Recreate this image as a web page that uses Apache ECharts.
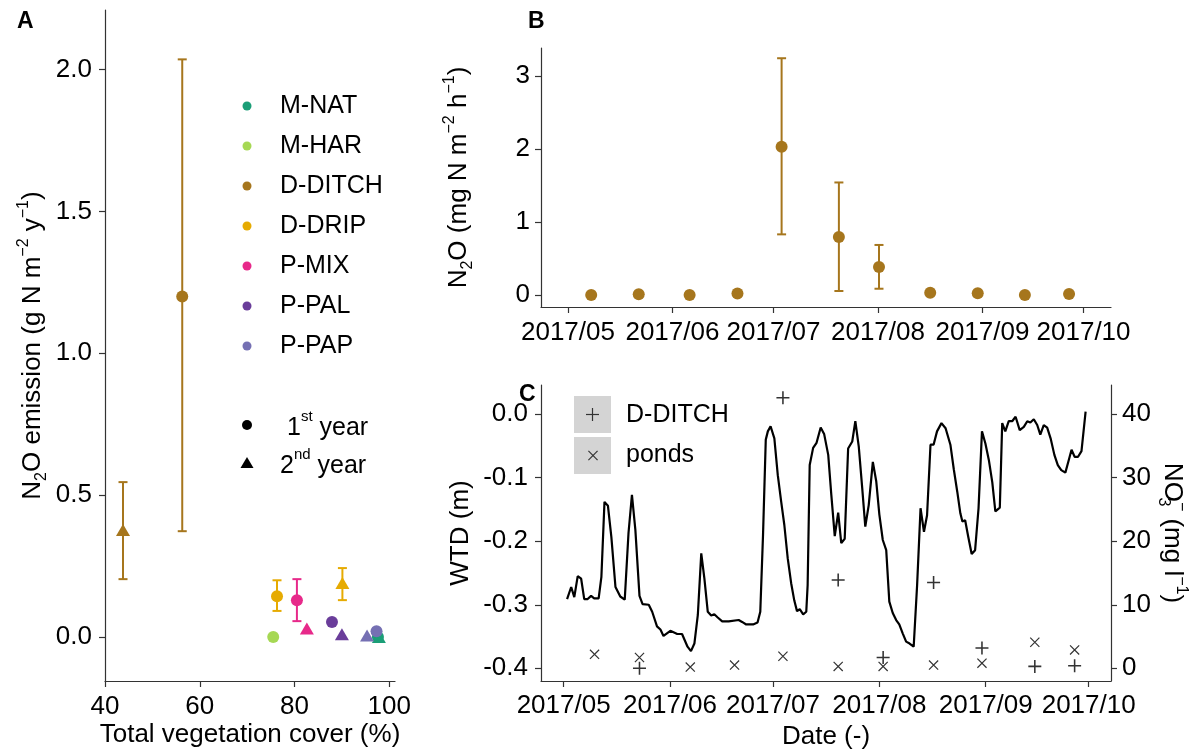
<!DOCTYPE html>
<html>
<head>
<meta charset="utf-8">
<title>N2O emission</title>
<script src="https://cdn.jsdelivr.net/npm/echarts@6.0.0/dist/echarts.min.js"></script>
<style>
html,body{margin:0;padding:0;background:#fff;}
#main{width:1196px;height:751px;}
</style>
</head>
<body>
<div id="main"></div>
<script>
var FONT = '"Liberation Sans", Arial, sans-serif';
var DAY = 86400000;
var T0 = Date.UTC(2017, 4, 1); // day 0 = 2017/05/01

// panel A: annual emission vs vegetation cover
var groups = ['M-NAT', 'M-HAR', 'D-DITCH', 'D-DRIP', 'P-MIX', 'P-PAL', 'P-PAP'];
var cover1 = [97.6, 75.5, 56.3, 76.3, 80.5, 87.9, 97.3];
var emis1 = [0.00, 0.00, 1.20, 0.144, 0.13, 0.053, 0.02];
var emis1Lo = [null, null, 0.373, 0.092, 0.056, null, null];
var emis1Hi = [null, null, 2.036, 0.200, 0.204, null, null];
var cover2 = [97.8, null, 43.8, 90.1, 82.6, 90.0, 95.3];
var emis2 = [0.00, null, 0.377, 0.19, 0.03, 0.01, 0.005];
var emis2Lo = [null, null, 0.204, 0.13, null, null, null];
var emis2Hi = [null, null, 0.546, 0.243, null, null, null];
var coverTicks = [40, 60, 80, 100];
var emisTicks = [0, 0.5, 1, 1.5, 2];

// panel B: D-DITCH flux (x = days after 2017/05/01)
var fluxDay = [6.9, 21.0, 36.1, 50.3, 63.4, 80.4, 92.3, 107.5, 121.6, 135.6, 148.7];
var fluxVal = [0.00, 0.01, 0.00, 0.02, 2.03, 0.795, 0.384, 0.03, 0.023, 0.00, 0.015];
var fluxLo = [null, null, null, null, 0.83, 0.055, 0.086, null, null, null, null];
var fluxHi = [null, null, null, null, 3.24, 1.54, 0.685, null, null, null, null];
var fluxTicks = [0, 1, 2, 3];
var monthTicks = ['2017/05', '2017/06', '2017/07', '2017/08', '2017/09', '2017/10'];

// panel C: water table depth and nitrate
var wtdDay = [1.0, 2.2, 3.1, 4.1, 5.1, 6.0, 7.0, 8.0, 8.9, 10.2, 11.0, 11.9, 12.9, 13.9, 15.1, 16.5, 17.8, 18.9, 19.9, 20.9,
  22.1, 23.0, 24.8, 25.8, 27.2, 28.2, 29.1, 31.1, 33.1, 34.5, 36.1, 37.1, 38.1, 39.1, 40.1, 41.0, 42.0, 43.0, 43.9, 44.9,
  46.2, 48.1, 51.0, 52.0, 53.2, 55.2, 56.5, 57.3, 58.1, 58.9, 59.5, 60.3, 60.8, 61.4, 62.4, 63.4, 64.3, 65.3, 66.3, 67.2,
  68.0, 68.8, 69.8, 70.7, 71.1, 71.7, 72.7, 73.7, 74.9, 75.9, 77.1, 78.0, 79.0, 80.0, 80.9, 81.9, 82.9, 84.1, 85.0, 86.0,
  87.0, 87.9, 88.9, 90.1, 91.1, 92.0, 93.0, 94.0, 94.9, 95.9, 96.9, 97.8, 98.8, 99.8, 100.8, 102.0, 103.0, 104.0, 105.0, 105.9,
  106.9, 107.8, 108.8, 110.1, 111.3, 112.7, 113.7, 114.7, 115.6, 116.2, 117.0, 117.9, 118.9, 119.9, 120.9, 121.9, 122.9, 123.9, 124.9, 125.8,
  127.1, 127.8, 128.7, 129.7, 130.7, 131.7, 132.9, 134.1, 135.1, 136.0, 137.0, 138.0, 138.9, 139.9, 140.9, 141.9, 143.0, 144.0, 145.0, 146.2,
  147.2, 148.0, 148.9, 149.9, 150.9, 152.1];
var wtdVal = [-0.291, -0.272, -0.288, -0.255, -0.259, -0.291, -0.291, -0.286, -0.290, -0.290, -0.256, -0.138, -0.144, -0.193, -0.272, -0.287, -0.292, -0.187, -0.127, -0.182,
  -0.286, -0.299, -0.300, -0.311, -0.334, -0.339, -0.349, -0.341, -0.346, -0.346, -0.366, -0.373, -0.361, -0.316, -0.219, -0.258, -0.311, -0.317, -0.315, -0.320,
  -0.326, -0.326, -0.324, -0.327, -0.331, -0.331, -0.328, -0.311, -0.190, -0.040, -0.027, -0.019, -0.016, -0.038, -0.096, -0.138, -0.174, -0.227, -0.266, -0.293,
  -0.310, -0.307, -0.315, -0.311, -0.269, -0.080, -0.053, -0.045, -0.021, -0.031, -0.064, -0.127, -0.192, -0.155, -0.203, -0.196, -0.054, -0.043, -0.011, -0.051,
  -0.116, -0.177, -0.143, -0.075, -0.106, -0.158, -0.198, -0.214, -0.295, -0.313, -0.324, -0.331, -0.345, -0.358, -0.361, -0.366, -0.269, -0.148, -0.185, -0.159,
  -0.048, -0.048, -0.027, -0.014, -0.022, -0.048, -0.087, -0.122, -0.156, -0.169, -0.167, -0.193, -0.220, -0.214, -0.148, -0.027, -0.046, -0.072, -0.107, -0.153,
  -0.147, -0.014, -0.027, -0.011, -0.011, -0.004, -0.025, -0.020, -0.011, -0.013, -0.008, -0.017, -0.032, -0.017, -0.021, -0.038, -0.064, -0.080, -0.088, -0.092,
  -0.072, -0.056, -0.067, -0.067, -0.058, 0.004];
var ditchDay = [22.1, 63.9, 80.0, 93.1, 107.8, 121.9, 137.3, 148.9];
var ditchNO3 = [0.0, 42.6, 13.9, 1.7, 13.5, 3.2, 0.3, 0.4];
var pondDay = [9.0, 22.1, 36.9, 49.8, 63.9, 80.0, 93.1, 107.8, 121.9, 137.3, 148.9];
var pondNO3 = [2.2, 1.7, 0.2, 0.5, 1.9, 0.3, 0.3, 0.5, 0.8, 4.1, 2.9];
var wtdTicks = [-0.4, -0.3, -0.2, -0.1, 0];
var no3Ticks = [0, 10, 20, 30, 40];

var colors = ['#1b9e77', '#a6d854', '#a6761d', '#e6ab02', '#e7298a', '#6a3d9a', '#7570b3'];
var PLUS = 'path://M4.4,0h1.2v10h-1.2z M0,4.4h10v1.2h-10z';
var CROSS = 'path://M0,0.85L0.85,0L10,9.15L9.15,10Z M10,0.85L0.85,10L0,9.15L9.15,0Z';

// month ticks as day offsets from 2017/05/01
var monthDays = monthTicks.map(function (s) {
  var p = s.split('/');
  return Math.round((Date.UTC(+p[0], +p[1] - 1, 1) - T0) / DAY);
});
function monthLabel(v) {
  var k = monthDays.indexOf(Math.round(v));
  return k < 0 ? '' : monthTicks[k];
}

var richName = {
  sub: { fontSize: 16, fontFamily: FONT, color: '#000', verticalAlign: 'bottom', lineHeight: 16 },
  sub0: { fontSize: 16, fontFamily: FONT, color: '#000', verticalAlign: 'bottom', lineHeight: 16, width: 0.01 }, // stacked under the next sup
  sup: { fontSize: 16, fontFamily: FONT, color: '#000', verticalAlign: 'top', lineHeight: 16 }
};

// common look of all axes
function axis(o) {
  var a = {
    axisLine: { show: true, onZero: false, lineStyle: { color: '#333', width: 1.2 } },
    axisTick: { show: true, length: 6, lineStyle: { color: '#333', width: 1.2 } },
    splitLine: { show: false },
    axisLabel: { color: '#000', fontSize: 26, fontFamily: FONT, margin: 11 },
    nameLocation: 'middle',
    nameMoveOverlap: false,
    nameTextStyle: { color: '#000', fontSize: 26, fontFamily: FONT, lineHeight: 34, rich: richName }
  };
  for (var k in o) {
    if (k === 'ticks') {
      a.axisLabel.customValues = o.ticks;
      a.axisTick.customValues = o.ticks;
    } else if (k === 'fmt') {
      a.axisLabel.formatter = o.fmt;
    } else if (k === 'margin') {
      a.axisLabel.margin = o.margin;
    } else {
      a[k] = o[k];
    }
  }
  return a;
}

// error bar renderer
function errBar(capHalf) {
  return function (params, api) {
    var p1 = api.coord([api.value(0), api.value(1)]);
    var p2 = api.coord([api.value(0), api.value(2)]);
    var st = { stroke: colors[api.value(3)], lineWidth: 2 };
    return {
      type: 'group',
      children: [
        { type: 'line', shape: { x1: p1[0], y1: p1[1], x2: p2[0], y2: p2[1] }, style: st },
        { type: 'line', shape: { x1: p1[0] - capHalf, y1: p1[1], x2: p1[0] + capHalf, y2: p1[1] }, style: st },
        { type: 'line', shape: { x1: p2[0] - capHalf, y1: p2[1], x2: p2[0] + capHalf, y2: p2[1] }, style: st }
      ]
    };
  };
}

var series = [];

// A error bars
var errA = [];
for (var i = 0; i < groups.length; i++) {
  if (emis1Lo[i] != null) errA.push([cover1[i], emis1Lo[i], emis1Hi[i], i]);
  if (emis2Lo[i] != null) errA.push([cover2[i], emis2Lo[i], emis2Hi[i], i]);
}
series.push({
  type: 'custom', xAxisIndex: 0, yAxisIndex: 0, z: 2,
  renderItem: errBar(4.5),
  encode: { x: 0, y: [1, 2] },
  data: errA
});

// A points, one series per site
for (var i = 0; i < groups.length; i++) {
  var d = [{ value: [cover1[i], emis1[i]], symbol: 'circle', symbolSize: 12 }];
  if (cover2[i] != null) d.push({ value: [cover2[i], emis2[i]], symbol: 'triangle', symbolSize: [14, 12] });
  series.push({
    type: 'scatter', name: groups[i], xAxisIndex: 0, yAxisIndex: 0, z: 3,
    itemStyle: { color: colors[i], opacity: 1 },
    data: d
  });
}

// B
var errB = [];
for (var i = 0; i < fluxDay.length; i++) {
  if (fluxLo[i] != null) errB.push([fluxDay[i], fluxLo[i], fluxHi[i], 2]);
}
series.push({
  type: 'custom', xAxisIndex: 1, yAxisIndex: 1, z: 2,
  renderItem: errBar(4.5),
  encode: { x: 0, y: [1, 2] },
  data: errB
});
series.push({
  type: 'scatter', xAxisIndex: 1, yAxisIndex: 1, z: 3,
  symbolSize: 12, itemStyle: { color: colors[2], opacity: 1 },
  data: fluxDay.map(function (d, i) { return [d, fluxVal[i]]; })
});

// C
series.push({
  type: 'line', xAxisIndex: 2, yAxisIndex: 2, showSymbol: false, z: 2,
  lineStyle: { color: '#000', width: 2.2 },
  data: wtdDay.map(function (d, i) { return [d, wtdVal[i]]; })
});
series.push({
  type: 'scatter', xAxisIndex: 2, yAxisIndex: 3, z: 3,
  symbol: PLUS, symbolSize: 13, itemStyle: { color: '#333', opacity: 1 },
  data: ditchDay.map(function (d, i) { return [d, ditchNO3[i]]; })
});
series.push({
  type: 'scatter', xAxisIndex: 2, yAxisIndex: 3, z: 3,
  symbol: CROSS, symbolSize: 10, itemStyle: { color: '#333', opacity: 1 },
  data: pondDay.map(function (d, i) { return [d, pondNO3[i]]; })
});

// legends and panel letters
var graphic = [
  { type: 'text', x: 17, y: 22, style: { text: 'A', fontSize: 23, fontWeight: 'bold', fontFamily: FONT, fill: '#000', verticalAlign: 'middle' } },
  { type: 'text', x: 528, y: 22, style: { text: 'B', fontSize: 23, fontWeight: 'bold', fontFamily: FONT, fill: '#000', verticalAlign: 'middle' } },
  { type: 'text', x: 519, y: 395, style: { text: 'C', fontSize: 23, fontWeight: 'bold', fontFamily: FONT, fill: '#000', verticalAlign: 'middle' } }
];
groups.forEach(function (g, i) {
  graphic.push({ type: 'circle', shape: { cx: 247, cy: 106 + 40 * i, r: 4.5 }, style: { fill: colors[i] } });
  graphic.push({ type: 'text', x: 280, y: 106 + 40 * i, style: { text: g, fontSize: 25, fontFamily: FONT, fill: '#000', verticalAlign: 'middle' } });
});
var richYear = {
  n: { fontSize: 25, fontFamily: FONT, fill: '#000', lineHeight: 32, verticalAlign: 'bottom' },
  s: { fontSize: 15, fontFamily: FONT, fill: '#000', lineHeight: 15, verticalAlign: 'top' }
};
graphic.push({ type: 'circle', shape: { cx: 247, cy: 425, r: 5 }, style: { fill: '#000' } });
graphic.push({ type: 'text', x: 287, y: 425, style: { text: '{n|1}{s|st}{n| year}', rich: richYear, verticalAlign: 'middle' } });
graphic.push({ type: 'polygon', shape: { points: [[247, 457], [253.5, 468], [240.5, 468]] }, style: { fill: '#000' } });
graphic.push({ type: 'text', x: 280, y: 463, style: { text: '{n|2}{s|nd}{n| year}', rich: richYear, verticalAlign: 'middle' } });
// C legend keys
graphic.push({ type: 'rect', shape: { x: 574, y: 396, width: 37, height: 37 }, style: { fill: '#d4d4d4' } });
graphic.push({ type: 'rect', shape: { x: 574, y: 437, width: 37, height: 37 }, style: { fill: '#d4d4d4' } });
graphic.push({ type: 'rect', shape: { x: 586, y: 413.9, width: 13, height: 1.2 }, style: { fill: '#333' } });
graphic.push({ type: 'rect', shape: { x: 591.9, y: 408, width: 1.2, height: 13 }, style: { fill: '#333' } });
graphic.push({ type: 'polygon', shape: { points: [[588, 451.35], [588.85, 450.5], [598, 459.65], [597.15, 460.5]] }, style: { fill: '#333' } });
graphic.push({ type: 'polygon', shape: { points: [[598, 451.35], [588.85, 460.5], [588, 459.65], [597.15, 450.5]] }, style: { fill: '#333' } });
graphic.push({ type: 'text', x: 626, y: 415, style: { text: 'D-DITCH', fontSize: 25, fontFamily: FONT, fill: '#000', verticalAlign: 'middle' } });
graphic.push({ type: 'text', x: 626, y: 455, style: { text: 'ponds', fontSize: 25, fontFamily: FONT, fill: '#000', verticalAlign: 'middle' } });

var option = {
  animation: false,
  backgroundColor: '#fff',
  grid: [
    { left: 105, top: 10, width: 290, height: 671, outerBoundsMode: 'none' },
    { left: 541, top: 48, width: 570, height: 259, outerBoundsMode: 'none' },
    { left: 541, top: 385, width: 570, height: 296, outerBoundsMode: 'none' }
  ],
  xAxis: [
    axis({ type: 'value', gridIndex: 0, min: 40, max: 101.2, ticks: coverTicks, margin: 13,
      name: 'Total vegetation cover (%)', nameGap: 37 }),
    axis({ type: 'value', gridIndex: 1, min: -8.0, max: 161.15, ticks: monthDays, fmt: monthLabel, margin: 13 }),
    axis({ type: 'value', gridIndex: 2, min: -6.6, max: 159.5, ticks: monthDays, fmt: monthLabel, margin: 12,
      name: 'Date (-)', nameGap: 39 })
  ],
  yAxis: [
    axis({ type: 'value', gridIndex: 0, min: -0.155, max: 2.21, ticks: emisTicks, margin: 13,
      fmt: function (v) { return v.toFixed(1); },
      name: 'N{sub|2}O emission (g N m{sup|\u22122} y{sup|\u22121})', nameGap: 55 }),
    axis({ type: 'value', gridIndex: 1, min: -0.164, max: 3.38, ticks: fluxTicks, margin: 11,
      name: 'N{sub|2}O (mg N m{sup|\u22122} h{sup|\u22121})', nameGap: 65 }),
    axis({ type: 'value', gridIndex: 2, min: -0.42, max: 0.046, ticks: wtdTicks, margin: 13,
      fmt: function (v) { return v.toFixed(1); },
      name: 'WTD (m)', nameGap: 63 }),
    axis({ type: 'value', gridIndex: 2, position: 'right', min: -2.0, max: 44.6, ticks: no3Ticks, margin: 11,
      name: 'NO{sub0|3}{sup|\u2212} (mg l{sup|\u22121})', nameGap: 44, nameRotate: -90 })
  ],
  graphic: graphic,
  series: series
};

var myChart = echarts.init(document.getElementById('main'));
myChart.setOption(option);
</script>
</body>
</html>
